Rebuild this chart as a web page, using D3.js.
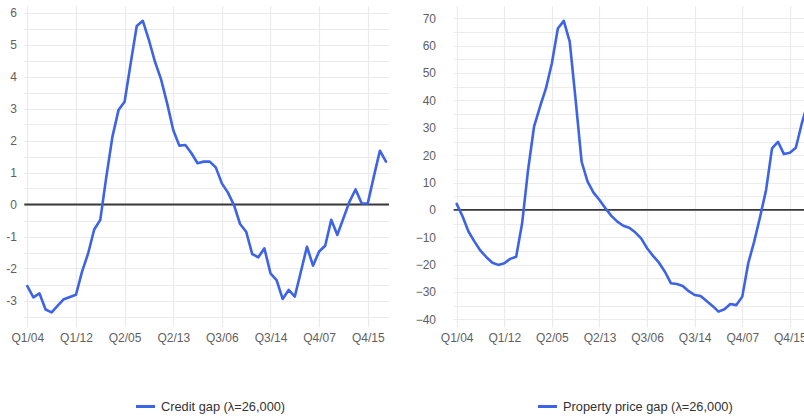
<!DOCTYPE html>
<html>
<head>
<meta charset="utf-8">
<script src="https://cdn.jsdelivr.net/npm/d3@7"></script>
<style>
  html, body { margin: 0; padding: 0; background: #fff; overflow: hidden; }
  svg { display: block; font-family: "Liberation Sans", Arial, Helvetica, sans-serif; }
</style>
</head>
<body>
<svg id="chart" width="804" height="418"></svg>
<script>
// ---- data ----
const tickLabels = ["Q1/04", "Q1/12", "Q2/05", "Q2/13", "Q3/06", "Q3/14", "Q4/07", "Q4/15"];
const tickEvery = 8;

const creditGap = [
  -2.55, -2.90, -2.78, -3.28, -3.37, -3.16, -2.96, -2.89, -2.82, -2.10,
  -1.53, -0.78, -0.48, 0.87, 2.12, 2.95, 3.21, 4.41, 5.58, 5.74,
  5.14, 4.46, 3.91, 3.16, 2.33, 1.84, 1.86, 1.60, 1.29, 1.34,
  1.34, 1.16, 0.66, 0.37, -0.02, -0.61, -0.85, -1.55, -1.65, -1.37,
  -2.15, -2.36, -2.95, -2.67, -2.88, -2.10, -1.32, -1.91, -1.47, -1.29,
  -0.48, -0.95, -0.43, 0.09, 0.47, 0.04, 0.03, 0.87, 1.68, 1.34
];

const propertyGap = [
  2.2, -2.4, -8.0, -11.6, -14.9, -17.3, -19.3, -20.1, -19.5, -17.9,
  -17.1, -4.9, 14.6, 30.4, 37.7, 44.4, 53.6, 66.3, 69.1, 61.5,
  40.0, 17.6, 10.3, 6.3, 3.6, 0.6, -2.2, -4.3, -5.8, -6.5,
  -8.2, -10.4, -14.0, -16.8, -19.3, -22.6, -26.8, -27.1, -27.8, -29.7,
  -31.1, -31.5, -33.3, -35.1, -37.2, -36.3, -34.4, -34.8, -31.7, -19.5,
  -11.6, -2.5, 7.3, 22.5, 24.9, 20.4, 20.9, 22.7, 31.6, 39.0
];

const leftTicks = [-3, -2, -1, 0, 1, 2, 3, 4, 5, 6];
const rightTicks = [-40, -30, -20, -10, 0, 10, 20, 30, 40, 50, 60, 70];

const seriesNames = ["Credit gap (\u03bb=26,000)", "Property price gap (\u03bb=26,000)"];

// ---- drawing ----
const svg = d3.select("#chart");
const lineColor = "#3d63e6";
const gridColor = "#ebebeb";
const textColor = "#5f5f5f";

function panel(cfg) {
  const g = svg.append("g");
  const x = d3.scaleLinear().domain([-0.5, cfg.data.length - 0.5]).range([cfg.x0, cfg.x1]);
  const y = d3.scaleLinear().domain(cfg.yDomain).range([cfg.yBottom, cfg.yTop]);

  // horizontal grid (minor + major)
  g.append("g").selectAll("line").data(cfg.gridVals).join("line")
    .attr("x1", cfg.x0).attr("x2", cfg.x1)
    .attr("y1", d => Math.round(y(d)) + 0.5).attr("y2", d => Math.round(y(d)) + 0.5)
    .attr("stroke", gridColor).attr("stroke-width", 1.2);

  // vertical grid
  const xt = d3.range(0, tickLabels.length).map(i => i * tickEvery);
  g.append("g").selectAll("line").data(xt).join("line")
    .attr("x1", d => Math.round(x(d)) + 0.5).attr("x2", d => Math.round(x(d)) + 0.5)
    .attr("y1", cfg.gridTop).attr("y2", cfg.gridBottom)
    .attr("stroke", gridColor).attr("stroke-width", 1.2);

  // y axis labels
  const yAxis = d3.axisLeft(y).tickValues(cfg.yTicks).tickSize(0).tickPadding(0)
    .tickFormat(cfg.yFormat);
  const ya = g.append("g").attr("transform", `translate(${cfg.yLabelX},0)`).call(yAxis);
  ya.select(".domain").remove();
  ya.selectAll("text").attr("fill", textColor).attr("font-size", 12)
    .attr("font-family", "'Liberation Sans', Arial, sans-serif");

  // x axis labels
  const xAxis = d3.axisBottom(x).tickValues(xt).tickSize(0).tickPadding(0)
    .tickFormat((d, i) => tickLabels[i]);
  const xa = g.append("g").attr("transform", `translate(0,${cfg.xLabelY})`).call(xAxis);
  xa.select(".domain").remove();
  xa.selectAll("text").attr("fill", textColor).attr("font-size", 12)
    .attr("font-family", "'Liberation Sans', Arial, sans-serif");

  // zero line
  g.append("line")
    .attr("x1", cfg.x0).attr("x2", cfg.x1)
    .attr("y1", y(0)).attr("y2", y(0))
    .attr("stroke", "#3a3a3a").attr("stroke-width", 1.8);

  // series line
  const line = d3.line().x((d, i) => x(i)).y(d => y(d));
  g.append("path").datum(cfg.data)
    .attr("d", line)
    .attr("fill", "none")
    .attr("stroke", lineColor)
    .attr("stroke-width", 2.6)
    .attr("stroke-linejoin", "round")
    .attr("stroke-linecap", "round");

  // legend
  const lg = svg.append("g");
  lg.append("line")
    .attr("x1", cfg.legendX).attr("x2", cfg.legendX + 19)
    .attr("y1", 406.5).attr("y2", 406.5)
    .attr("stroke", lineColor).attr("stroke-width", 3);
  lg.append("text")
    .attr("x", cfg.legendX + 25).attr("y", 411)
    .attr("font-size", 12.8).attr("fill", "#333")
    .text(cfg.name);
}

panel({
  data: creditGap,
  x0: 24.3, x1: 389,
  yDomain: [0, 6], yBottom: 204.5, yTop: 12.5,
  gridVals: d3.range(-7, 13).map(k => k / 2),
  yTicks: leftTicks,
  yFormat: d => d < 0 ? "-" + Math.abs(d) : String(d),
  yLabelX: 17,
  gridTop: 6, gridBottom: 327,
  xLabelY: 333,
  legendX: 136,
  name: seriesNames[0]
});

panel({
  data: propertyGap,
  x0: 453.7, x1: 810.7,
  yDomain: [0, 70], yBottom: 209.9, yTop: 18.4,
  gridVals: d3.range(-8, 15).map(k => k * 5),
  yTicks: rightTicks,
  yFormat: d => d < 0 ? "\u2212" + Math.abs(d) : String(d),
  yLabelX: 436,
  gridTop: 6, gridBottom: 327,
  xLabelY: 333,
  legendX: 538,
  name: seriesNames[1]
});
</script>
</body>
</html>
